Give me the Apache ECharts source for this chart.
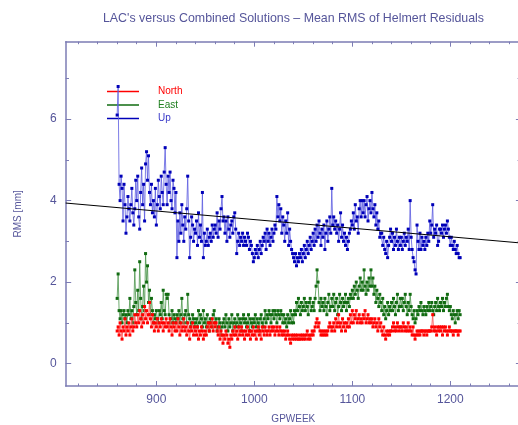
<!DOCTYPE html>
<html><head><meta charset="utf-8">
<script src="https://cdn.jsdelivr.net/npm/echarts@6/dist/echarts.min.js"></script>
<style>html,body{margin:0;padding:0;background:#fff}#c{width:518px;height:425px}</style>
</head><body><div id="c"></div>
<script>
// ---- data (weekly values, GPS week 860 .. 1210) ----
const firstWeek = 860;
const upValues = [
6.1,6.8,4.4,4.0,4.6,4.3,3.5,4.4,3.9,3.2,
3.6,4.1,3.8,3.5,3.9,4.3,3.7,3.4,3.8,4.5,
4.0,4.6,3.6,3.3,4.2,4.8,3.9,4.4,3.5,4.9,
5.2,4.5,5.1,4.2,3.9,4.4,3.7,4.0,3.6,4.3,
3.4,3.9,4.5,4.1,3.8,4.6,4.2,3.9,4.7,5.3,
4.4,3.9,4.6,4.2,4.7,4.0,3.8,4.5,4.3,3.7,
4.2,2.6,3.5,3.0,3.7,3.2,3.9,3.4,3.0,3.6,
3.3,3.8,4.6,3.5,2.6,3.1,3.6,3.4,3.0,3.3,
3.2,3.5,2.9,3.7,3.1,3.4,3.0,4.2,2.6,3.2,
2.9,3.0,3.3,2.9,3.1,3.2,3.0,3.4,3.1,3.3,
3.4,3.2,3.7,3.1,3.5,3.3,3.8,4.1,3.5,3.6,
3.2,3.5,3.0,3.6,3.3,3.1,3.4,3.5,3.2,3.6,
3.7,3.3,2.7,3.0,3.2,2.9,3.1,3.0,3.2,2.9,
3.1,3.0,2.9,3.2,3.1,2.8,3.0,2.9,2.7,2.5,
2.6,2.8,2.7,2.9,2.6,2.8,3.0,2.7,2.9,3.1,
3.0,3.2,2.8,3.3,3.0,3.2,2.9,3.1,3.3,3.0,
3.2,3.4,3.3,4.1,3.6,3.9,3.5,3.8,3.2,3.6,
3.4,3.0,3.5,3.2,3.7,2.9,3.3,3.0,2.8,2.7,
2.6,2.5,2.7,2.4,2.6,2.5,2.7,2.6,2.8,2.5,
2.7,2.9,2.6,2.8,3.0,2.7,2.9,3.1,2.8,3.0,
3.2,2.9,3.3,3.0,3.4,3.1,3.5,3.2,2.9,3.3,
3.1,3.4,2.8,3.2,3.5,3.0,3.3,3.6,3.2,4.3,
3.4,3.6,3.3,3.5,3.2,3.4,3.0,3.3,3.7,3.1,
3.4,3.0,3.2,2.9,3.1,2.8,3.0,3.2,3.3,3.5,
3.4,3.7,3.3,3.9,3.5,3.6,3.2,3.8,4.0,3.6,
4.0,3.7,4.0,3.6,3.9,4.1,3.5,3.8,4.0,3.7,
4.2,3.8,3.6,3.9,3.4,3.7,3.3,3.5,3.1,3.2,
3.2,2.9,3.1,2.8,2.7,3.0,2.6,2.9,3.1,3.3,
3.0,3.2,2.8,3.1,2.9,3.3,3.0,2.8,3.1,2.9,
3.1,2.8,3.0,3.2,2.9,3.1,3.0,3.3,2.8,4.0,
3.1,2.8,2.6,2.5,2.3,2.2,3.4,3.0,2.8,3.2,
2.8,3.1,2.9,3.0,2.8,3.1,2.9,3.2,3.0,3.5,
3.2,3.4,3.9,3.1,3.3,3.2,3.4,2.9,3.0,3.3,
3.3,3.2,3.4,3.1,3.3,3.4,3.2,3.5,3.3,3.1,
2.9,3.1,2.9,2.8,3.0,2.8,2.7,2.9,2.7,2.6,2.6
];
const eastValues = [
1.6,2.2,1.3,1.1,1.3,1.0,1.2,1.3,1.1,1.2,
1.0,1.3,1.2,1.6,1.1,1.3,1.0,1.4,2.3,1.5,
1.2,1.8,1.3,2.5,1.6,1.1,1.4,1.9,1.3,2.7,
2.0,2.4,1.5,1.8,1.2,1.6,1.3,1.0,1.2,1.1,
1.3,1.1,1.0,1.3,1.2,1.5,1.1,1.8,1.3,1.2,
1.7,1.6,1.7,1.2,1.0,1.1,1.3,1.0,1.2,1.1,
1.0,1.2,1.1,1.3,1.0,1.2,1.6,1.1,1.0,1.2,
1.3,1.0,1.7,1.2,1.1,0.9,1.0,1.2,1.1,0.9,
1.0,1.1,0.9,1.3,1.0,1.2,1.1,0.9,1.3,1.0,
1.1,0.9,1.2,1.0,0.8,1.1,1.0,0.9,1.2,1.3,
1.0,1.1,0.8,0.9,1.1,1.0,0.7,0.9,1.0,1.1,
0.9,1.2,1.0,0.8,1.1,0.9,1.0,1.2,0.8,1.0,
1.1,0.9,1.0,1.2,0.9,1.1,1.0,0.8,1.1,1.2,
1.0,1.1,0.9,1.0,1.2,0.8,1.1,1.0,0.9,1.1,
1.0,1.2,0.9,1.1,1.0,0.8,1.1,1.2,1.0,0.9,
1.1,1.3,1.0,1.2,1.1,1.3,1.2,1.0,1.2,1.3,
1.1,1.3,1.2,1.0,1.3,1.2,1.1,1.3,1.2,1.0,
1.2,1.0,1.1,0.9,1.2,1.0,1.1,1.3,1.0,1.2,
1.0,1.3,1.2,1.5,1.3,1.6,1.4,1.2,1.5,1.3,
1.4,1.6,1.3,1.5,1.4,1.2,1.5,1.6,1.3,1.4,
1.5,1.3,1.6,1.9,2.3,2.0,1.5,1.3,1.6,1.4,
1.5,1.3,1.6,1.4,1.2,1.5,1.7,1.3,1.4,1.6,
1.4,1.7,1.3,1.5,1.6,1.2,1.4,1.7,1.5,1.3,
1.6,1.4,1.5,1.7,1.3,1.5,1.6,1.4,1.7,1.6,
1.8,1.6,1.9,1.7,2.0,1.8,1.6,1.9,2.1,1.8,
2.0,1.8,2.3,1.9,1.7,2.0,1.8,2.1,1.9,2.3,
1.9,2.1,1.7,1.9,1.5,1.8,1.6,1.4,1.7,1.5,
1.3,1.6,1.2,1.4,1.1,1.3,1.5,1.2,1.4,1.3,
1.5,1.3,1.6,1.4,1.2,1.5,1.7,1.3,1.4,1.6,
1.4,1.6,1.3,1.5,1.7,1.4,1.2,1.5,1.3,1.7,
1.4,1.2,1.1,1.3,1.0,1.1,1.3,1.2,1.4,1.3,
1.5,1.3,1.2,1.4,1.3,1.2,1.4,1.3,1.5,1.3,
1.4,1.5,1.3,1.2,1.4,1.5,1.3,1.6,1.4,1.3,
1.5,1.4,1.6,1.3,1.5,1.4,1.6,1.7,1.4,1.3,
1.4,1.2,1.1,1.3,1.2,1.0,1.2,1.3,1.1,1.3,1.2
];
const northValues = [
0.8,0.9,0.7,1.0,0.8,0.6,0.9,0.8,1.1,0.7,
0.9,0.8,1.0,0.7,0.9,1.1,0.8,0.9,1.2,1.0,
0.9,1.2,1.0,1.3,1.1,0.9,1.2,1.0,1.4,1.1,
1.3,1.0,1.2,1.5,1.1,0.9,1.2,1.0,0.8,1.0,
0.9,1.1,0.8,1.0,0.9,1.1,1.0,0.8,1.0,0.9,
1.1,0.9,1.0,0.8,1.1,0.9,0.7,1.0,0.9,0.8,
1.0,0.8,1.1,0.9,0.7,1.0,0.8,0.9,1.1,0.8,
0.9,0.7,1.0,0.8,0.6,0.9,0.8,1.0,0.7,0.9,
0.8,0.7,0.9,0.6,0.8,0.7,0.9,0.8,0.6,0.7,
0.8,0.7,0.9,1.0,0.8,1.0,0.9,1.1,0.8,1.0,
0.9,1.0,0.8,0.7,0.9,0.6,0.8,0.7,0.5,0.7,
0.6,0.8,0.7,0.5,0.6,0.4,0.7,0.6,0.8,0.7,
0.9,0.7,0.8,0.6,0.9,0.7,0.8,0.9,0.7,0.8,
0.6,0.8,0.7,0.9,0.7,0.8,0.6,0.8,0.7,0.9,
0.7,0.8,0.6,0.8,0.9,0.7,0.8,0.6,0.9,0.8,
0.7,0.9,0.8,0.7,0.8,0.9,0.7,0.8,0.9,0.8,
0.9,0.7,0.8,0.9,0.8,0.7,0.9,0.8,0.7,0.8,
0.7,0.8,0.6,0.7,0.8,0.7,0.6,0.5,0.7,0.6,
0.7,0.6,0.7,0.6,0.7,0.6,0.6,0.7,0.6,0.7,
0.6,0.7,0.6,0.7,0.8,0.6,0.7,0.6,0.7,0.8,
0.7,0.8,0.9,1.0,1.1,0.9,1.0,0.8,0.7,0.8,
0.7,0.8,0.7,0.8,0.7,0.8,0.9,1.0,0.9,0.8,
0.9,1.0,0.8,1.1,0.9,1.0,1.2,0.9,1.0,0.8,
1.1,0.9,1.0,0.8,1.0,0.9,1.1,0.9,1.2,1.0,
1.3,1.0,1.2,1.1,1.3,1.0,1.1,1.2,1.0,1.1,
1.0,1.2,1.1,1.3,1.0,1.1,1.2,1.0,1.1,1.0,
1.1,0.9,1.0,1.1,0.9,1.0,0.8,1.1,0.9,1.0,
0.8,0.7,0.9,0.7,0.6,0.8,0.7,0.8,0.7,0.8,
0.8,0.9,1.0,0.8,0.9,0.8,1.0,0.9,0.8,0.9,
0.9,0.8,1.0,0.9,0.8,0.9,0.8,1.0,0.8,0.9,
0.8,0.7,0.9,0.7,0.6,0.7,0.8,0.7,0.8,0.7,
0.8,0.8,0.8,0.7,0.8,0.8,0.7,0.8,0.8,0.8,
0.8,0.9,1.2,0.8,0.9,0.8,0.7,0.9,0.8,0.9,
0.8,0.9,0.7,0.9,0.8,0.9,0.8,0.7,0.8,0.9,
0.8,0.8,0.8,0.7,0.8,0.8,0.8,0.8,0.7,0.8,0.8
];
// linear trend of the Up component (end points)
const trendWeeks = [807.5, 1272];
const trendValues = [3.94, 2.96];
// axis ticks
const xMajorTicks = [900, 1000, 1100, 1200];
const xMinorTicks = [820, 840, 860, 880, 920, 940, 960, 980, 1020, 1040, 1060, 1080, 1120, 1140, 1160, 1180, 1220, 1240, 1260];
const yMajorTicks = [0, 2, 4, 6];
const yMinorTicks = [1, 3, 5, 7];
const seriesNames = ['North', 'East', 'Up'];

// ---- chart ----
const AX = '#7c7cb4', TXT = '#55559a', FONT = 'Liberation Sans';
const X_MIN = 807.5, X_MAX = 1272, Y_MIN = -0.55, Y_MAX = 7.9;
const pts = arr => arr.map((v, i) => [firstWeek + i, v]);
const plain = v => String(v);
const GRID = { left: 65.7, top: 41.7, width: 455.2, height: 344.3, containLabel: false, outerBoundsMode: 'none' };

function xAx(grid, pos, ticks, len, line, labels, extra) {
  return Object.assign({
    type: 'value', gridIndex: grid, min: X_MIN, max: X_MAX, position: pos,
    axisLine: { show: line, onZero: false, lineStyle: { color: AX, width: 1.5 } },
    axisTick: { show: true, inside: true, length: len, customValues: ticks, lineStyle: { color: AX, width: 1 } },
    axisLabel: labels ? { customValues: ticks, formatter: plain, color: TXT, fontFamily: FONT, fontSize: 12, margin: 8 } : { show: false },
    splitLine: { show: false }
  }, extra || {});
}
function yAx(grid, pos, ticks, len, line, labels, extra) {
  return Object.assign({
    type: 'value', gridIndex: grid, min: Y_MIN, max: Y_MAX, position: pos,
    axisLine: { show: line, onZero: false, lineStyle: { color: AX, width: 1.5 } },
    axisTick: { show: true, inside: true, length: len, customValues: ticks, lineStyle: { color: AX, width: 1 } },
    axisLabel: labels ? { customValues: ticks, formatter: plain, color: TXT, fontFamily: FONT, fontSize: 12, margin: 9 } : { show: false },
    splitLine: { show: false }
  }, extra || {});
}

const chart = echarts.init(document.getElementById('c'), null, { renderer: 'canvas' });
chart.setOption({
  animation: false,
  backgroundColor: '#ffffff',
  title: {
    text: "LAC's versus Combined Solutions \u2013 Mean RMS of Helmert Residuals",
    left: 288.5, top: 8, textAlign: 'center',
    textStyle: { fontFamily: FONT, fontSize: 12.4, fontWeight: 'normal', color: TXT }
  },
  grid: [Object.assign({}, GRID), Object.assign({}, GRID)],
  legend: {
    orient: 'vertical', left: 102, top: 81.5, itemGap: 3.5,
    icon: 'rect', itemWidth: 32, itemHeight: 1.5,
    selectedMode: false,
    textStyle: { fontFamily: FONT, fontSize: 10, padding: [0, 0, 0, 14] },
    data: [
      { name: seriesNames[0], textStyle: { color: '#ff0000' } },
      { name: seriesNames[1], textStyle: { color: '#1f7f1f' } },
      { name: seriesNames[2], textStyle: { color: '#3838c8' } }
    ]
  },
  xAxis: [
    xAx(0, 'bottom', xMajorTicks, 5, true, true, {
      name: 'GPWEEK', nameLocation: 'middle', nameGap: 28,
      nameTextStyle: { fontFamily: FONT, fontSize: 10, color: TXT }
    }),
    xAx(0, 'top', xMajorTicks, 5, true, false),
    xAx(1, 'bottom', xMinorTicks, 2.5, false, false),
    xAx(1, 'top', xMinorTicks, 2.5, false, false)
  ],
  yAxis: [
    yAx(0, 'left', yMajorTicks, 5.5, true, true, {
      name: 'RMS [mm]', nameLocation: 'middle', nameGap: 42,
      nameTextStyle: { fontFamily: FONT, fontSize: 10, color: TXT }
    }),
    yAx(0, 'right', yMajorTicks, 5, false, false),
    yAx(1, 'left', yMinorTicks, 3.3, false, false),
    yAx(1, 'right', yMinorTicks, 3.3, false, false)
  ],
  series: [
    {
      type: 'line', name: seriesNames[1], data: pts(eastValues), xAxisIndex: 0, yAxisIndex: 0,
      symbol: 'rect', symbolSize: 3, showAllSymbol: true,
      itemStyle: { color: '#116b11' }, lineStyle: { color: '#4a944a', width: 0.8 },
      emphasis: { disabled: true }, z: 2
    },
    {
      type: 'line', name: seriesNames[0], data: pts(northValues), xAxisIndex: 0, yAxisIndex: 0,
      symbol: 'rect', symbolSize: 3, showAllSymbol: true,
      itemStyle: { color: '#ff0000' }, lineStyle: { color: '#ff5050', width: 0.8 },
      emphasis: { disabled: true }, z: 3
    },
    {
      type: 'line', name: seriesNames[2], data: pts(upValues), xAxisIndex: 0, yAxisIndex: 0,
      symbol: 'rect', symbolSize: 3, showAllSymbol: true,
      itemStyle: { color: '#0000b8' }, lineStyle: { color: '#5a5ae0', width: 0.8 },
      emphasis: { disabled: true }, z: 4
    },
    {
      type: 'line', name: 'trend', data: trendWeeks.map((w, i) => [w, trendValues[i]]),
      xAxisIndex: 0, yAxisIndex: 0, symbol: 'none',
      lineStyle: { color: '#000000', width: 1 }, emphasis: { disabled: true }, z: 5
    }
  ]
});
</script>
</body></html>
